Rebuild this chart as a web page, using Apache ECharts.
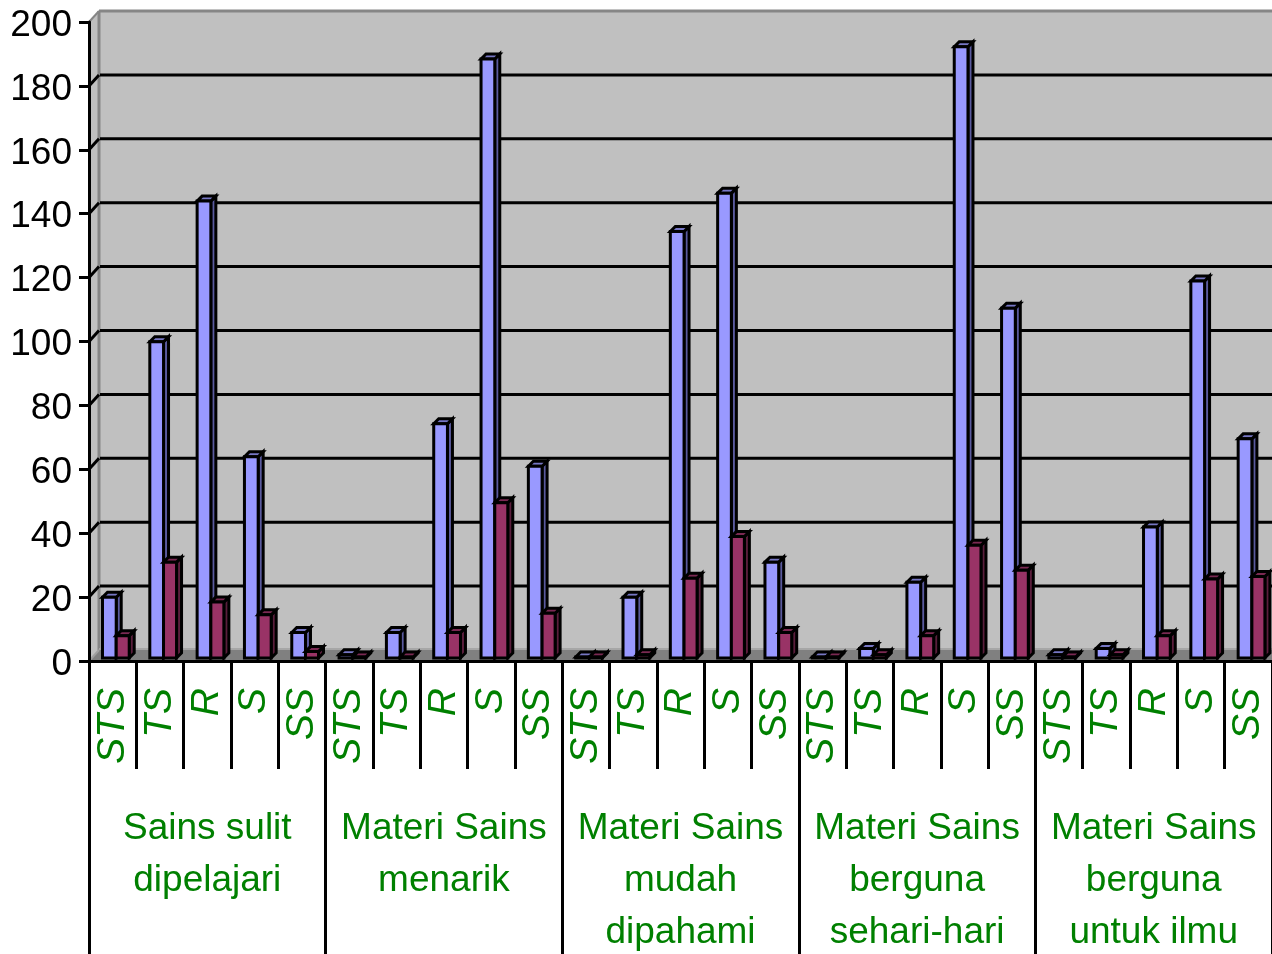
<!DOCTYPE html>
<html>
<head>
<meta charset="utf-8">
<style>html,body{margin:0;padding:0;background:#fff;overflow:hidden}#c{width:1272px;height:954px}</style>
<script src="https://cdn.jsdelivr.net/npm/echarts@6/dist/echarts.min.js"></script>
</head>
<body>
<div id="c"></div>
<script>
var categories = ['STS','TS','R','S','SS','STS','TS','R','S','SS','STS','TS','R','S','SS','STS','TS','R','S','SS','STS','TS','R','S','SS'];
var groups = ['Sains sulit\ndipelajari','Materi Sains\nmenarik','Materi Sains\nmudah\ndipahami','Materi Sains\nberguna\nsehari-hari','Materi Sains\nberguna\nuntuk ilmu'];
var gridValues = [20,40,60,80,100,120,140,160,180];
var blueValues = [19,99,143,63,8, 1,8,73.3,187.5,60, 0.3,19,133.5,145.5,30, 0.3,3,23.7,191.3,109.5, 1,3,41,118,68.6];
var redValues = [7,30,17.5,13.5,2, 0.3,0.3,8,48.6,14, 0.3,1,25,38,8, 0.3,1,7,35.3,27.5, 0.3,1,7,24.7,25.5];

var FONT = '"Liberation Sans", Arial, sans-serif';
var GREEN = '#008000';
var WALL = '#C0C0C0', FLOOR = '#808080', EDGE = '#868686';
var DX = 10, DY = -11;      // wall depth
var BDX = 5, BDY = -5, LIFT = 3; // bar depth

function poly(pts, fill, stroke, lw) {
  return {type:'polygon', shape:{points:pts}, style:{fill:fill, stroke:stroke||'none', lineWidth:lw||0}};
}
function line(x1,y1,x2,y2,c,w) {
  return {type:'line', shape:{x1:x1,y1:y1,x2:x2,y2:y2}, style:{stroke:c,lineWidth:w}};
}
function wallItem(params, api) {
  var cs = params.coordSys;
  var l = cs.x, r = cs.x + cs.width, t = cs.y, b = cs.y + cs.height;
  var kids = [
    poly([[l+DX,t+DY],[r,t+DY],[r,b+DY],[l+DX,b+DY]], WALL),
    poly([[l,t],[l+DX,t+DY],[l+DX,b+DY],[l,b]], WALL),
    poly([[l,b],[l+DX,b+DY],[r,b+DY],[r,b]], FLOOR),
    line(l+DX,t+DY,r,t+DY,EDGE,3),
    line(l+DX,t+DY,l+DX,b+DY,EDGE,3),
    line(l,t,l+DX,t+DY,EDGE,2),
    line(l,b,l+DX,b+DY,'#a0a0a0',2),
    line(l+DX,b+DY-1,r,b+DY-1,'#a6a6a6',2)
  ];
  gridValues.forEach(function (v) {
    var y = api.coord([0, v])[1];
    kids.push(line(l,y,l+DX,y+DY,'#000',3));
    kids.push(line(l+DX+1,y+DY,r,y+DY,'#000',3));
  });
  return {type:'group', children:kids};
}
function barItem(frontColor, sideColor, topColor, startFrac, endFrac) {
  return function (params, api) {
    var idx = api.value(0), val = api.value(1);
    var p = api.coord([idx, val]);
    var p0 = api.coord([idx, 0]);
    var band = api.size([1, 0])[0];
    var x0 = p[0] + band * startFrac, x1 = p[0] + band * endFrac;
    var y = p[1] - LIFT, b = p0[1] - LIFT;
    return {type:'group', children:[
      poly([[x1,y],[x1+BDX,y+BDY],[x1+BDX,b+BDY],[x1,b]], sideColor, '#000', 3),
      poly([[x0,y],[x0+BDX,y+BDY],[x1+BDX,y+BDY],[x1,y]], topColor, '#000', 3),
      poly([[x0,y],[x1,y],[x1,b],[x0,b]], frontColor, '#000', 3)
    ]};
  };
}
var chart = echarts.init(document.getElementById('c'), null, {renderer:'canvas'});
chart.setOption({
  animation:false,
  backgroundColor:'#fff',
  grid:{left:89, right:0, top:22, bottom:293, containLabel:false, outerBoundsMode:'none'},
  xAxis:[
    {type:'category', data:categories, position:'bottom',
     axisLine:{show:true, lineStyle:{color:'#000', width:3}},
     axisTick:{show:true, length:108, inside:false, alignWithLabel:false, interval:0, lineStyle:{color:'#000', width:3}},
     axisLabel:{show:true, interval:0, rotate:90, margin:27, color:GREEN, fontFamily:FONT, fontSize:39, fontStyle:'italic', hideOverlap:false}},
    {type:'category', data:groups, position:'bottom',
     axisLine:{show:false},
     axisTick:{show:true, length:293, interval:0, lineStyle:{color:'#000', width:3}},
     axisLabel:{show:true, interval:0, margin:142, color:GREEN, fontFamily:FONT, fontSize:37, lineHeight:52, verticalAlign:'top', hideOverlap:false}}
  ],
  yAxis:{type:'value', min:0, max:200, interval:20,
     axisLine:{show:true, lineStyle:{color:'#000', width:3}},
     axisTick:{show:true, length:10, lineStyle:{color:'#000', width:3}},
     axisLabel:{show:true, margin:17, color:'#000', fontFamily:FONT, fontSize:37, hideOverlap:false, showMinLabel:true, showMaxLabel:true,
       formatter:'{n|{value}}',
       rich:{n:{color:'#000', fontFamily:FONT, fontSize:37, lineHeight:37, padding:[7,0,0,0]}}},
     splitLine:{show:false}},
  series:[
    {type:'custom', z:-1, silent:true, clip:false, renderItem:wallItem, data:[[0,0]], encode:{x:0,y:1}},
    {type:'custom', z:3, silent:true, clip:false,
     renderItem:barItem('#9999FF','#5A5A9E','#7777C4',-0.215,0.075),
     data:blueValues.map(function(v,i){return [i,v];}), encode:{x:0,y:1}},
    {type:'custom', z:4, silent:true, clip:false,
     renderItem:barItem('#993366','#5A1E3C','#7A2952',0.075,0.35),
     data:redValues.map(function(v,i){return [i,v];}), encode:{x:0,y:1}}
  ]
});
</script>
</body>
</html>
